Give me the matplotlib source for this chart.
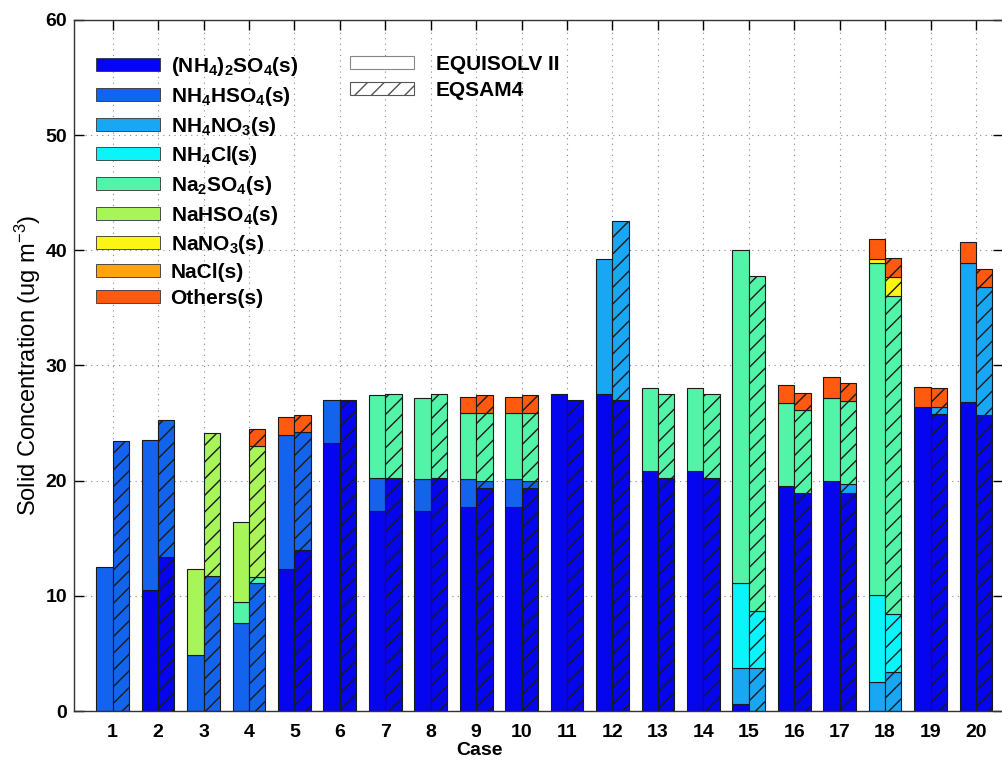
import numpy as np
import matplotlib
matplotlib.use("Agg")
import matplotlib.pyplot as plt
from matplotlib.patches import Patch

plt.rcParams['font.family'] = ['Liberation Sans', 'DejaVu Sans']
plt.rcParams['mathtext.fontset'] = 'custom'
plt.rcParams['mathtext.rm'] = 'Liberation Sans:bold'
plt.rcParams['mathtext.bf'] = 'Liberation Sans:bold'
plt.rcParams['mathtext.default'] = 'bf'
plt.rcParams['hatch.linewidth'] = 1.0

cases = np.arange(1, 21)

species = [r'(NH$_4$)$_2$SO$_4$(s)', r'NH$_4$HSO$_4$(s)', r'NH$_4$NO$_3$(s)',
           r'NH$_4$Cl(s)', r'Na$_2$SO$_4$(s)', r'NaHSO$_4$(s)', r'NaNO$_3$(s)',
           r'NaCl(s)', r'Others(s)']
colors = ['#0505F0', '#1463EC', '#19A6F2', '#0AF5FA', '#52F5A8',
          '#A8F55A', '#FAF515', '#FFA50A', '#FF5A0F']

# EQUISOLV II, per species, cases 1..20
equisolv = {
    'nh42so4': [0, 10.5, 0, 0, 12.3, 23.3, 17.4, 17.4, 17.7, 17.7,
                27.5, 27.5, 20.8, 20.8, 0.6, 19.5, 20.0, 0, 26.4, 26.8],
    'nh4hso4': [12.5, 13.0, 4.9, 7.6, 11.7, 3.7, 2.8, 2.7, 2.4, 2.4,
                0, 0, 0, 0, 0, 0, 0, 0, 0, 0],
    'nh4no3': [0, 0, 0, 0, 0, 0, 0, 0, 0, 0,
               0, 11.7, 0, 0, 3.1, 0, 0, 2.5, 0, 12.1],
    'nh4cl': [0, 0, 0, 0, 0, 0, 0, 0, 0, 0,
              0, 0, 0, 0, 7.4, 0, 0, 7.6, 0, 0],
    'na2so4': [0, 0, 0, 1.9, 0, 0, 7.2, 7.1, 5.8, 5.8,
               0, 0, 7.2, 7.2, 28.9, 7.2, 7.2, 28.8, 0, 0],
    'nahso4': [0, 0, 7.4, 6.9, 0, 0, 0, 0, 0, 0,
               0, 0, 0, 0, 0, 0, 0, 0, 0, 0],
    'nano3': [0, 0, 0, 0, 0, 0, 0, 0, 0, 0,
              0, 0, 0, 0, 0, 0, 0, 0.3, 0, 0],
    'nacl': [0, 0, 0, 0, 0, 0, 0, 0, 0, 0,
             0, 0, 0, 0, 0, 0, 0, 0, 0, 0],
    'others': [0, 0, 0, 0, 1.5, 0, 0, 0, 1.4, 1.4,
               0, 0, 0, 0, 0, 1.6, 1.8, 1.8, 1.7, 1.8],
}

# EQSAM4, per species, cases 1..20
eqsam4 = {
    'nh42so4': [0, 13.4, 0, 0, 14.0, 26.9, 20.2, 20.2, 19.4, 19.4,
                27.0, 27.0, 20.2, 20.2, 0, 18.9, 18.9, 0, 25.8, 25.7],
    'nh4hso4': [23.4, 11.9, 11.7, 11.1, 10.2, 0.1, 0, 0, 0.6, 0.6,
                0, 0, 0, 0, 0, 0, 0, 0, 0, 0],
    'nh4no3': [0, 0, 0, 0, 0, 0, 0, 0, 0, 0,
               0, 15.5, 0, 0, 3.7, 0, 0.8, 3.4, 0.6, 11.1],
    'nh4cl': [0, 0, 0, 0, 0, 0, 0, 0, 0, 0,
              0, 0, 0, 0, 5.0, 0, 0, 5.0, 0, 0],
    'na2so4': [0, 0, 0, 0.5, 0, 0, 7.3, 7.3, 5.9, 5.9,
               0, 0, 7.3, 7.3, 29.1, 7.2, 7.2, 27.6, 0, 0],
    'nahso4': [0, 0, 12.4, 11.4, 0, 0, 0, 0, 0, 0,
               0, 0, 0, 0, 0, 0, 0, 0, 0, 0],
    'nano3': [0, 0, 0, 0, 0, 0, 0, 0, 0, 0,
              0, 0, 0, 0, 0, 0, 0, 1.7, 0, 0],
    'nacl': [0, 0, 0, 0, 0, 0, 0, 0, 0, 0,
             0, 0, 0, 0, 0, 0, 0, 0, 0, 0],
    'others': [0, 0, 0, 1.5, 1.5, 0, 0, 0, 1.5, 1.5,
               0, 0, 0, 0, 0, 1.5, 1.6, 1.6, 1.6, 1.6],
}

keys = ['nh42so4', 'nh4hso4', 'nh4no3', 'nh4cl', 'na2so4',
        'nahso4', 'nano3', 'nacl', 'others']

fig = plt.figure(figsize=(10.03, 7.62), dpi=100)
ax = fig.add_axes([0.0738, 0.0669, 0.926, 0.907])

width = 0.36
ax.set_axisbelow(True)
ax.grid(True, linestyle=(0, (1, 4)), color='#888888', linewidth=0.8)


def draw_stack(data, offset, hatch):
    bottom = np.zeros(len(cases))
    for key, col in zip(keys, colors):
        vals = np.array(data[key], dtype=float)
        mask = vals > 0
        ax.bar(cases[mask] + offset, vals[mask], width=width, bottom=bottom[mask],
               color=col, edgecolor='#1a1a1a', linewidth=0.8, hatch=hatch)
        bottom += vals


draw_stack(equisolv, -width / 2, None)
draw_stack(eqsam4, width / 2, '//')

ax.set_xlim(0.15, 20.59)
ax.set_ylim(0, 60)
ax.set_xticks(cases)
ax.set_yticks(np.arange(0, 61, 10))
ax.tick_params(direction='in', top=True, right=True, length=7, width=1,
               labelsize=14)
ax.tick_params(axis='x', pad=9)
ax.tick_params(axis='y', pad=5)
for lbl in ax.get_xticklabels() + ax.get_yticklabels():
    lbl.set_fontweight('bold')
for sp in ax.spines.values():
    sp.set_color('#333333')
    sp.set_linewidth(1.0)

ax.set_xlabel('Case', fontsize=14, fontweight='bold', labelpad=0)
ax.xaxis.set_label_coords(0.437, -0.045)
ax.set_ylabel(r'Solid Concentration (ug m$^{\mathregular{-3}}$)', fontsize=17,
              va='center')
ax.yaxis.set_label_coords(-0.05, 0.5)

h1 = [Patch(facecolor=c, edgecolor='#333333', linewidth=0.6) for c in colors]
leg1 = ax.legend(h1, species, loc='upper left', bbox_to_anchor=(0.0075, 0.97),
                 frameon=False, prop={'weight': 'bold', 'size': 15},
                 handlelength=3.1, handleheight=0.6, labelspacing=0.32,
                 handletextpad=0.5, borderaxespad=0.3)
ax.add_artist(leg1)

h2 = [Patch(facecolor='white', edgecolor='#888888', linewidth=0.8),
      Patch(facecolor='white', edgecolor='#555555', linewidth=0.8, hatch='//')]
ax.legend(h2, ['EQUISOLV II', 'EQSAM4'], loc='upper left',
          bbox_to_anchor=(0.281, 0.97), frameon=False,
          prop={'weight': 'bold', 'size': 15},
          handlelength=3.1, handleheight=0.6, labelspacing=0.32,
          handletextpad=1.05, borderaxespad=0.3)

fig.savefig('out.png', dpi=100)
